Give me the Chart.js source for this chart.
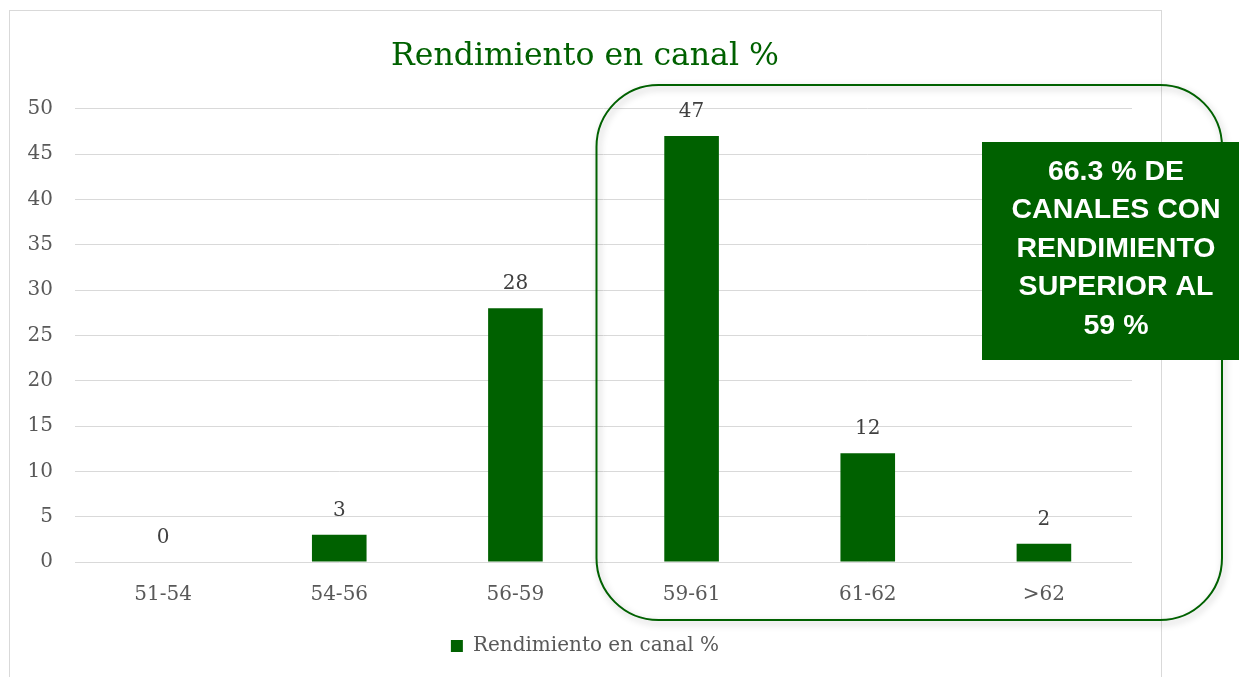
<!DOCTYPE html>
<html>
<head>
<meta charset="utf-8">
<script src="https://cdn.jsdelivr.net/npm/chart.js@4.4.1/dist/chart.umd.min.js"></script>
<style>
html,body{margin:0;padding:0;background:#fff;}
#wrap{position:relative;width:1239px;height:677px;}
</style>
</head>
<body>
<div id="wrap"><canvas id="c" width="1239" height="677"></canvas></div>
<script>
const categories = ['51-54', '54-56', '56-59', '59-61', '61-62', '>62'];
const values = [0, 3, 28, 47, 12, 2];
const seriesName = 'Rendimiento en canal %';
const titleText = 'Rendimiento en canal %';
const calloutLines = ['66.3 % DE', 'CANALES CON', 'RENDIMIENTO', 'SUPERIOR AL', '59 %'];

const GREEN = '#006100';
const SERIF = '"DejaVu Serif", "Liberation Serif", serif';

const decor = {
  id: 'decor',
  beforeDraw(chart) {
    const ctx = chart.ctx;
    ctx.save();
    ctx.fillStyle = '#fff';
    ctx.fillRect(0, 0, chart.width, chart.height);
    ctx.strokeStyle = '#d9d9d9';
    ctx.lineWidth = 1;
    ctx.strokeRect(9.5, 10.5, 1152, 700);
    ctx.restore();
  },
  afterDatasetsDraw(chart) {
    const ctx = chart.ctx;
    const meta = chart.getDatasetMeta(0);
    ctx.save();
    ctx.font = '20px ' + SERIF;
    ctx.fillStyle = '#404040';
    ctx.textAlign = 'center';
    ctx.textBaseline = 'middle';
    meta.data.forEach((bar, i) => {
      ctx.fillText(String(values[i]), bar.x, bar.y - 24);
    });
    ctx.restore();
  },
  afterDraw(chart) {
    const ctx = chart.ctx;
    const xs = chart.scales.x;
    const step = (chart.chartArea.right - chart.chartArea.left) / categories.length;
    const left = xs.getPixelForValue(3) - step / 2 - 7;
    const top = 85, right = 1222, bottom = 620, r = 62;
    ctx.save();
    ctx.shadowColor = 'rgba(0,0,0,0.28)';
    ctx.shadowBlur = 7;
    ctx.shadowOffsetX = 2;
    ctx.shadowOffsetY = 3;
    ctx.strokeStyle = GREEN;
    ctx.lineWidth = 2;
    ctx.beginPath();
    ctx.roundRect(left, top, right - left, bottom - top, r);
    ctx.stroke();
    ctx.restore();

    ctx.save();
    ctx.fillStyle = GREEN;
    ctx.fillRect(982, 142, 270, 218);
    ctx.fillStyle = '#ffffff';
    ctx.font = 'bold 28.5px "Liberation Sans", Arial, sans-serif';
    ctx.textAlign = 'center';
    ctx.textBaseline = 'middle';
    calloutLines.forEach((t, i) => {
      ctx.fillText(t, 1116, 172 + i * 38.5);
    });
    ctx.restore();
  }
};

new Chart(document.getElementById('c'), {
  type: 'bar',
  data: {
    labels: categories,
    datasets: [{
      label: seriesName,
      data: values,
      backgroundColor: GREEN,
      borderWidth: 0,
      barPercentage: 0.62,
      categoryPercentage: 0.5
    }]
  },
  options: {
    responsive: false,
    animation: false,
    layout: { padding: { left: 9, right: 78, top: 10, bottom: 11 } },
    plugins: {
      title: {
        display: true,
        text: titleText,
        color: GREEN,
        font: { family: SERIF, size: 31.5, weight: 'normal' },
        padding: { top: 28, bottom: 33 }
      },
      legend: {
        position: 'bottom',
        labels: {
          boxWidth: 12, boxHeight: 12,
          color: '#595959',
          font: { family: SERIF, size: 20 },
          padding: 10
        }
      },
      tooltip: { enabled: false }
    },
    scales: {
      x: {
        grid: { display: false, drawTicks: false },
        border: { display: false },
        ticks: { color: '#595959', font: { family: SERIF, size: 20 }, padding: 21 },
        afterFit(s) { s.height = 64; }
      },
      y: {
        min: 0, max: 50,
        ticks: { stepSize: 5, color: '#595959', font: { family: SERIF, size: 20 }, padding: 22 },
        grid: { color: '#d9d9d9', drawTicks: false, lineWidth: 1 },
        border: { display: false },
        afterFit(s) { s.width = 66; }
      },
      y2: {
        position: 'right',
        display: true,
        grid: { display: false, drawTicks: false },
        border: { display: false },
        ticks: { display: false },
        afterFit(s) { s.width = 29; }
      }
    }
  },
  plugins: [decor]
});
</script>
</body>
</html>
